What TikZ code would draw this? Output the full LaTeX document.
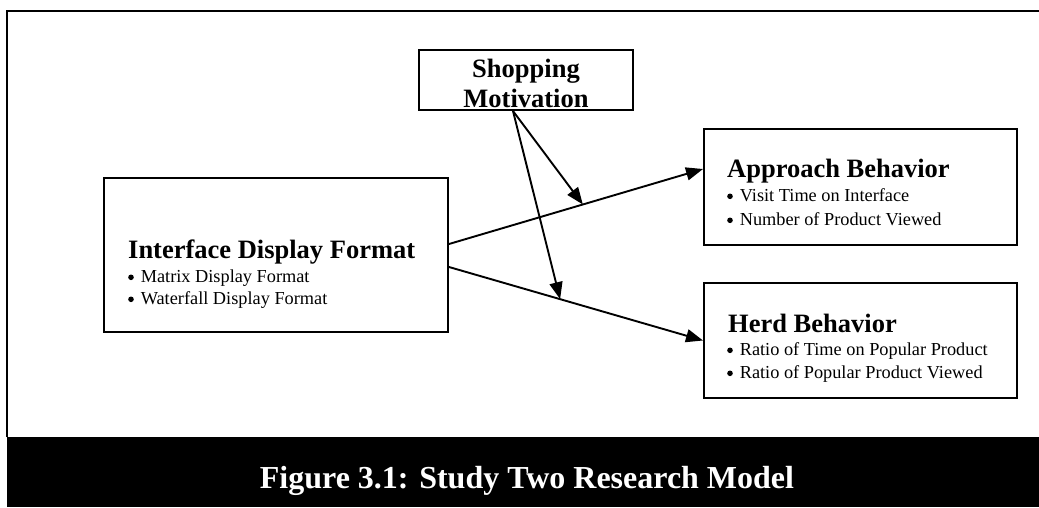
\documentclass[tikz,border=0pt]{standalone}
\usepackage{fontspec}
\setmainfont{Liberation Serif}
\usetikzlibrary{arrows.meta}
\newcommand{\bul}{\tikz[baseline=-4.7pt]\fill (2.8pt,0) circle (2.8pt);\hspace{7pt}}
\tikzset{
  box/.style={draw,line width=2pt,inner sep=0pt},
  ttl/.style={anchor=base west,inner sep=0pt,font=\fontsize{26.5}{30}\selectfont\bfseries},
  itm/.style={anchor=base west,inner sep=0pt,font=\fontsize{18.3}{22}\selectfont},
  arr/.style={-{Triangle[length=17pt,width=13pt]},line width=1.9pt}
}

\begin{document}
\begin{tikzpicture}[x=1pt,y=1pt]
\useasboundingbox (0,0) rectangle (1039,-507);
% frame and caption band
\draw[line width=1.5pt] (7,-437) -- (7,-11) -- (1039,-11);
\fill (7,-437) rectangle (1039,-507);
\node[anchor=base,text=white,font=\fontsize{32}{36}\selectfont\bfseries] (cap) at (527,-488) {Figure 3.1: Study Two Research Model};

% boxes
\node[box,minimum width=344pt,minimum height=154pt] (idf) at (276,-255) {};
\node[box,minimum width=214pt,minimum height=60pt] (mot) at (526,-80) {};
\node[box,minimum width=313pt,minimum height=116pt] (app) at (860.5,-187) {};
\node[box,minimum width=313pt,minimum height=115pt] (herd) at (860.5,-340.5) {};

% texts
\node[ttl] (idf-t) at (128,-258) {Interface Display Format};
\node[itm] (idf-1) at (128,-282) {\bul Matrix Display Format};
\node[itm] (idf-2) at (128,-304) {\bul Waterfall Display Format};
\node[ttl,anchor=base] (mot-1) at (526,-77) {Shopping};
\node[ttl,anchor=base] (mot-2) at (526,-107) {Motivation};
\node[ttl] (app-t) at (727,-177) {Approach Behavior};
\node[itm] (app-1) at (727,-201) {\bul Visit Time on Interface};
\node[itm] (app-2) at (727,-225) {\bul Number of Product Viewed};
\node[ttl] (herd-t) at (728,-332) {Herd Behavior};
\node[itm] (herd-1) at (727,-355) {\bul Ratio of Time on Popular Product};
\node[itm] (herd-2) at (727,-378) {\bul Ratio of Popular Product Viewed};

% paths
\draw[arr] ([yshift=11pt]idf.east) -- coordinate[pos=0.527] (on-app) ([yshift=18pt]app.west);
\draw[arr] ([yshift=-12pt]idf.east) -- coordinate[pos=0.4375] (on-herd) (herd.west);
\draw[arr] ([xshift=-13pt]mot.south) -- (on-app);
\draw[arr] ([xshift=-13pt]mot.south) -- (on-herd);
\end{tikzpicture}
\end{document}
